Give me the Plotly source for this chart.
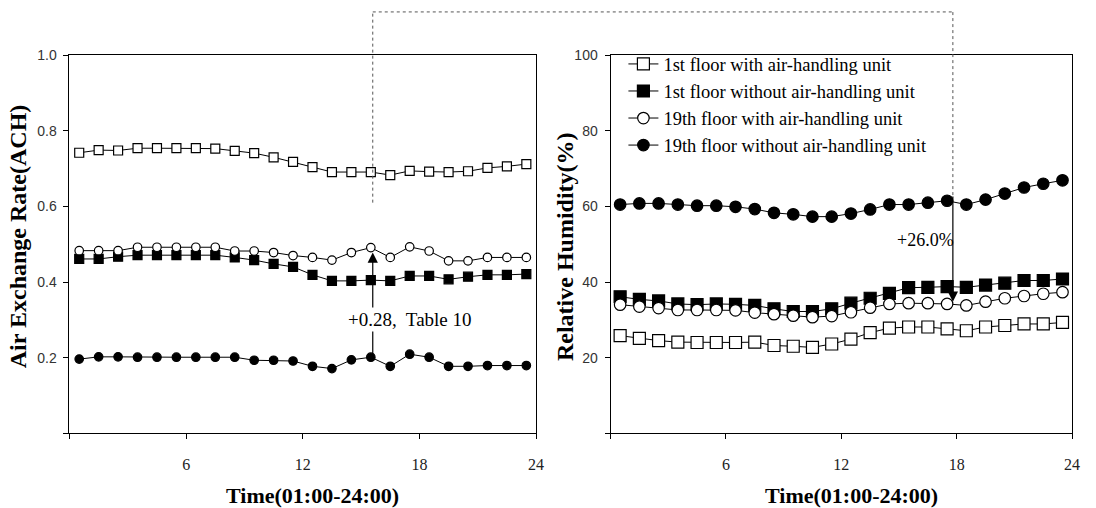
import plotly.graph_objects as go

hours = [h - 0.5 for h in range(1, 25)]

ach_1f_ahu = [0.742, 0.749, 0.748, 0.754, 0.754, 0.754, 0.754, 0.753, 0.747, 0.741, 0.730, 0.718,
              0.704, 0.691, 0.691, 0.691, 0.683, 0.694, 0.692, 0.691, 0.693, 0.702, 0.706, 0.712]
ach_1f_no = [0.461, 0.461, 0.467, 0.471, 0.471, 0.471, 0.471, 0.471, 0.465, 0.458, 0.448, 0.440,
             0.419, 0.403, 0.403, 0.405, 0.403, 0.416, 0.416, 0.407, 0.414, 0.419, 0.419, 0.421]
ach_19f_ahu = [0.483, 0.483, 0.483, 0.492, 0.492, 0.492, 0.492, 0.492, 0.482, 0.482, 0.478, 0.470,
               0.465, 0.458, 0.478, 0.491, 0.465, 0.493, 0.482, 0.456, 0.456, 0.465, 0.465, 0.465]
ach_19f_no = [0.196, 0.202, 0.202, 0.201, 0.201, 0.201, 0.201, 0.201, 0.201, 0.193, 0.193, 0.191,
              0.177, 0.171, 0.194, 0.201, 0.177, 0.209, 0.201, 0.177, 0.177, 0.179, 0.179, 0.179]

rh_1f_ahu = [25.8, 25.1, 24.5, 24.1, 24.0, 24.0, 24.0, 24.1, 23.2, 23.0, 22.7, 23.6,
             24.9, 26.6, 27.8, 28.1, 28.1, 27.6, 27.1, 28.1, 28.5, 28.9, 28.9, 29.3]
rh_1f_no = [36.1, 35.4, 35.0, 34.2, 34.0, 34.2, 34.1, 33.8, 32.9, 32.2, 32.2, 32.9,
            34.4, 35.7, 37.0, 38.5, 38.6, 38.8, 38.6, 39.2, 39.7, 40.4, 40.4, 40.8]
rh_19f_ahu = [34.0, 33.5, 33.1, 32.6, 32.6, 32.6, 32.5, 31.9, 31.5, 31.1, 30.7, 31.0,
              32.0, 33.2, 34.2, 34.4, 34.4, 34.2, 33.8, 34.8, 35.7, 36.3, 36.9, 37.3]
rh_19f_no = [60.5, 60.8, 60.8, 60.5, 60.2, 60.2, 59.9, 59.3, 58.3, 57.9, 57.3, 57.3,
             58.1, 59.2, 60.5, 60.5, 61.0, 61.5, 60.5, 61.8, 63.4, 65.0, 66.0, 66.9]

series_names = ["1st floor with air-handling unit", "1st floor without air-handling unit",
                "19th floor with air-handling unit", "19th floor without air-handling unit"]
x_ticks = [0, 6, 12, 18, 24]
x_ticktext = ["", "6", "12", "18", "24"]
ach_ticks = [0, 0.2, 0.4, 0.6, 0.8, 1.0]
ach_ticktext = ["", "0.2", "0.4", "0.6", "0.8", "1.0"]
rh_ticks = [0, 20, 40, 60, 80, 100]
rh_ticktext = ["", "20", "40", "60", "80", "100"]

W, H = 1096, 508
dom_x1 = [70 / W, 540 / W]
dom_x2 = [615 / W, 1080 / W]
dom_y = [(H - 432) / H, (H - 48) / H]

styles = [
    dict(symbol="square", color="white", size=9),
    dict(symbol="square", color="black", size=9),
    dict(symbol="circle", color="white", size=8.5),
    dict(symbol="circle", color="black", size=8.5),
]
left = [ach_1f_ahu, ach_1f_no, ach_19f_ahu, ach_19f_no]
right = [rh_1f_ahu, rh_1f_no, rh_19f_ahu, rh_19f_no]

fig = go.Figure()
for i, (name, st) in enumerate(zip(series_names, styles)):
    mk = dict(symbol=st["symbol"], color=st["color"], size=st["size"],
              line=dict(color="black", width=1.2))
    fig.add_trace(go.Scatter(x=hours, y=left[i], mode="lines+markers", name=name,
                             legendgroup=name, showlegend=False,
                             line=dict(color="black", width=1), marker=mk,
                             xaxis="x", yaxis="y"))
    fig.add_trace(go.Scatter(x=hours, y=right[i], mode="lines+markers", name=name,
                             legendgroup=name, showlegend=True,
                             line=dict(color="black", width=1),
                             marker=dict(mk, size=st["size"] + 3),
                             xaxis="x2", yaxis="y2"))

axis_common = dict(showline=True, linecolor="black", linewidth=1, mirror=True,
                   ticks="outside", ticklen=5, tickcolor="black", showgrid=False,
                   zeroline=False)
xfont = dict(family="Liberation Serif", size=16, color="#222")
yfont = dict(family="Liberation Sans", size=14, color="#333")

fig.update_layout(
    width=W, height=H,
    margin=dict(l=0, r=0, t=0, b=0),
    paper_bgcolor="white", plot_bgcolor="white",
    xaxis=dict(axis_common, domain=dom_x1, range=[0, 24], tickvals=x_ticks,
               ticktext=x_ticktext, tickfont=xfont, ticklabelstandoff=12, anchor="y"),
    yaxis=dict(axis_common, domain=dom_y, range=[0, 1], tickvals=ach_ticks,
               ticktext=ach_ticktext, tickfont=yfont, ticklabelstandoff=4, anchor="x"),
    xaxis2=dict(axis_common, domain=dom_x2, range=[0, 24], tickvals=x_ticks,
                ticktext=x_ticktext, tickfont=xfont, ticklabelstandoff=12, anchor="y2"),
    yaxis2=dict(axis_common, domain=dom_y, range=[0, 100], tickvals=rh_ticks,
                ticktext=rh_ticktext, tickfont=yfont, ticklabelstandoff=4, anchor="x2"),
    legend=dict(x=628 / W, y=1 - 38 / H, xanchor="left", yanchor="top",
                bgcolor="rgba(0,0,0,0)", traceorder="grouped", tracegroupgap=0,
                font=dict(family="Liberation Serif", size=18.5, color="black"),
                itemwidth=30),
    showlegend=True,
)

title_font = dict(family="Liberation Serif", size=22, color="black")
vtitle_font = dict(family="Liberation Serif", size=24, color="black")
fig.add_annotation(text="<b>Air Exchange Rate(ACH)</b>", xref="paper", yref="paper",
                   x=18 / W, y=1 - 232 / H, xanchor="center", yanchor="middle",
                   textangle=-90, showarrow=False, font=vtitle_font)
fig.add_annotation(text="<b>Relative Humidity(%)</b>", xref="paper", yref="paper",
                   x=569 / W, y=1 - 242 / H, xanchor="center", yanchor="middle",
                   textangle=-90, showarrow=False, font=vtitle_font)
fig.add_annotation(text="<b>Time(01:00-24:00)</b>", xref="paper", yref="paper",
                   x=(dom_x1[0] + dom_x1[1]) / 2 + 10 / W, y=1 - 495 / H,
                   xanchor="center", yanchor="middle", showarrow=False, font=title_font)
fig.add_annotation(text="<b>Time(01:00-24:00)</b>", xref="paper", yref="paper",
                   x=(dom_x2[0] + dom_x2[1]) / 2 + 10 / W, y=1 - 495 / H,
                   xanchor="center", yanchor="middle", showarrow=False, font=title_font)

# arrows
arrow_left_x = 15.6
arrow_right_x = 17.8
fig.add_annotation(x=arrow_left_x, y=0.478, ax=arrow_left_x, ay=0.20, xref="x", yref="y",
                   axref="x", ayref="y", text="", showarrow=True, arrowhead=2,
                   arrowsize=1.7, arrowwidth=1.2, arrowcolor="black")
fig.add_annotation(x=17.5, y=0.30, xref="x", yref="y", text="+0.28,  Table 10",
                   showarrow=False, bgcolor="white", xanchor="center", yanchor="middle",
                   font=dict(family="Liberation Serif", size=19, color="black"))
fig.add_annotation(x=arrow_right_x, y=34.8, ax=arrow_right_x, ay=63.0, xref="x2", yref="y2",
                   axref="x2", ayref="y2", text="", showarrow=True, arrowhead=2,
                   arrowsize=1.7, arrowwidth=1.2, arrowcolor="black")
fig.add_annotation(x=16.4, y=51.0, xref="x2", yref="y2", text="+26.0%",
                   showarrow=False, xanchor="center", yanchor="middle",
                   font=dict(family="Liberation Serif", size=18, color="black"))


def px_x(dom, v):
    return dom[0] + (v / 24) * (dom[1] - dom[0])


def px_y(v, vmax):
    return dom_y[0] + (v / vmax) * (dom_y[1] - dom_y[0])


top_y = 1 - 4 / H
xl = px_x(dom_x1, arrow_left_x)
xr = px_x(dom_x2, arrow_right_x)
dot = dict(color="#555", width=1, dash="dot")
fig.add_shape(type="line", xref="paper", yref="paper", x0=xl, x1=xl,
              y0=px_y(0.61, 1.0), y1=top_y, line=dot)
fig.add_shape(type="line", xref="paper", yref="paper", x0=xl, x1=xr,
              y0=top_y, y1=top_y, line=dot)
fig.add_shape(type="line", xref="paper", yref="paper", x0=xr, x1=xr,
              y0=px_y(63.0, 100), y1=top_y, line=dot)

fig.write_html("out.html", config={"displayModeBar": False},
               post_script="document.body.style.margin='0';document.body.style.overflow='hidden';")
